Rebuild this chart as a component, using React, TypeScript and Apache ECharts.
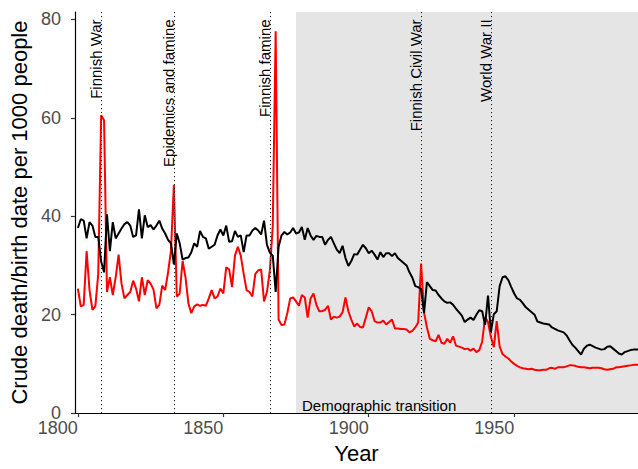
import React, { useEffect, useRef } from "react";
import * as echarts from "echarts";

const START_YEAR = 1800;

// Crude birth rate per 1000 people, 1800-1993 (black)
const birthRate = [
  37.6, 39.4, 39.1, 35.5, 38.8, 38.1, 35.8, 35.8, 30.8, 28.6,
  40.4, 32.9, 38.8, 35.5, 36.5, 37.5, 38.4, 38.8, 38.1, 35.8,
  36.1, 41.4, 35.5, 40.2, 37.8, 38.2, 37.3, 38.1, 39.1, 37.5,
  36.5, 35.2, 34.5, 30.2, 36.5, 34.5, 31.2, 31.5, 31.6, 32.7,
  34.5, 33.8, 37.0, 35.8, 35.5, 33.4, 33.8, 34.2, 36.1, 37.3,
  36.1, 38.1, 34.8, 34.9, 37.0, 35.8, 36.1, 32.7, 36.1, 36.1,
  37.1, 37.6, 37.1, 36.3, 39.1, 34.2, 32.6, 32.0, 24.6, 33.8,
  36.1, 36.8, 36.3, 36.7, 37.6, 36.5, 36.7, 37.8, 35.2, 37.6,
  36.1, 35.2, 36.0, 35.8, 35.8, 34.2, 35.2, 35.8, 34.5, 33.2,
  32.5, 34.0, 31.5, 29.9, 30.9, 32.3, 32.2, 33.2, 34.2, 33.5,
  32.5, 33.0, 32.2, 31.2, 32.7, 31.7, 32.5, 32.5, 31.9, 32.5,
  31.5, 31.0, 30.5, 30.0, 28.6, 27.5, 25.8, 25.6, 25.2, 20.3,
  26.6, 25.8, 25.0, 24.9, 24.0, 23.3, 22.7, 22.4, 22.5, 22.0,
  21.2, 20.5, 19.8, 18.5, 19.0, 19.4, 18.9, 20.0, 20.9, 20.7,
  17.9, 23.9, 16.5, 20.1, 20.7, 25.8, 27.6, 27.8, 27.0, 25.6,
  24.3, 23.3, 23.0, 22.3, 21.5, 21.0, 20.5, 20.0, 18.6, 18.4,
  18.2, 18.1, 18.0, 17.4, 17.1, 16.8, 16.6, 16.4, 15.8, 14.8,
  13.9, 13.3, 12.6, 11.9, 13.1, 13.7, 13.9, 13.6, 13.3, 13.1,
  12.9, 13.0, 13.5, 13.6, 13.1, 12.6, 12.1, 11.9, 12.4, 12.6,
  12.8, 12.9, 12.9, 12.9,
];

// Crude death rate per 1000 people, 1800-1993 (red)
const deathRate = [
  25.3, 21.7, 22.0, 32.9, 25.0, 21.0, 21.7, 28.3, 60.5, 59.5,
  24.6, 27.6, 24.0, 27.6, 32.2, 26.3, 23.3, 24.0, 24.6, 26.9,
  25.3, 22.7, 27.6, 24.0, 27.0, 26.3, 25.1, 21.3, 22.0, 25.9,
  25.0, 28.6, 33.0, 46.4, 23.7, 24.3, 30.9, 27.6, 22.3, 20.3,
  21.7, 22.1, 21.8, 22.0, 21.8, 23.3, 25.0, 23.3, 23.7, 25.3,
  24.3, 29.6, 29.2, 25.6, 32.0, 33.8, 32.0, 28.3, 25.0, 24.6,
  23.7, 28.3, 29.0, 29.2, 22.7, 24.6, 29.0, 38.0, 77.6, 19.0,
  17.9, 18.0, 20.3, 23.3, 23.5, 22.7, 21.8, 24.0, 23.5, 19.4,
  23.3, 24.3, 22.0, 20.7, 20.7, 21.0, 21.8, 19.0, 19.6, 19.4,
  19.6, 20.5, 23.5, 20.7, 19.0, 17.6, 18.2, 17.5, 17.4, 19.4,
  21.5, 20.7, 18.7, 18.4, 18.4, 18.8, 18.0, 18.5, 19.0, 17.2,
  17.2, 17.1, 17.1, 17.0, 16.4, 16.7, 17.4, 18.4, 30.4, 20.5,
  17.4, 15.1, 14.8, 14.6, 15.9, 14.3, 14.1, 15.1, 14.3, 15.6,
  13.7, 13.5, 13.3, 13.0, 13.1, 12.7, 13.1, 12.4, 12.8, 14.5,
  19.5, 18.5, 15.5, 13.4, 18.7, 13.5, 12.0, 11.5, 11.1, 10.5,
  10.0, 9.6, 9.3, 9.1, 9.0, 8.9, 9.0, 8.8, 8.7, 8.7,
  8.8, 8.8, 9.1, 9.2, 9.0, 9.3, 9.3, 9.3, 9.5, 9.7,
  9.7, 9.6, 9.4, 9.3, 9.3, 9.2, 9.1, 9.2, 9.2, 9.2,
  9.1, 8.9, 8.8, 8.9, 9.0, 9.3, 9.3, 9.4, 9.5, 9.6,
  9.7, 9.8, 9.8, 9.8,
];

const eventYears = [1808, 1833, 1866, 1918, 1942];
const eventLabels = [
  "Finnish War",
  "Epidemics and famine",
  "Finnish famine",
  "Finnish Civil War",
  "World War II",
];
const transitionStart = 1875;
const transitionLabel = "Demographic transition";
const xTicks = [1800, 1850, 1900, 1950];
const yTicks = [0, 20, 40, 60, 80];

const X_MIN = 1798.98;
const X_MAX = 1992.57;
const Y_MIN = 0;
const Y_MAX = 81.5;
const EVENT_LABEL_Y = 80;

export default function App() {
  const ref = useRef<HTMLDivElement>(null);

  useEffect(() => {
    if (!ref.current) return;
    const chart = echarts.init(ref.current, null, { renderer: "svg" });
    const font = "'Liberation Sans', Arial, sans-serif";
    const years = birthRate.map((_, i) => START_YEAR + i);

    chart.setOption({
      animation: false,
      backgroundColor: "#ffffff",
      grid: { left: 67.7, right: 0, top: 12, bottom: 45.5, containLabel: false },
      xAxis: {
        type: "value",
        min: X_MIN,
        max: X_MAX,
        name: "Year",
        nameLocation: "middle",
        nameGap: 27,
        nameTextStyle: { fontSize: 22, color: "#000", fontFamily: font },
        axisLine: { show: true, onZero: false, lineStyle: { color: "#000", width: 1.2 } },
        axisTick: { show: true, customValues: xTicks, length: 4, lineStyle: { color: "#333", width: 1.2 } },
        axisLabel: {
          customValues: xTicks,
          align: "right",
          margin: 6,
          fontSize: 18,
          color: "#4d4d4d",
          fontFamily: font,
          formatter: (v: number) => String(Math.round(v)),
        },
        splitLine: { show: false },
      },
      yAxis: {
        type: "value",
        min: Y_MIN,
        max: Y_MAX,
        name: "Crude death/birth date per 1000 people",
        nameLocation: "middle",
        nameGap: 33,
        nameTextStyle: { fontSize: 22, color: "#000", fontFamily: font },
        axisLine: { show: true, onZero: false, lineStyle: { color: "#000", width: 1.2 } },
        axisTick: { show: true, customValues: yTicks, length: 4, lineStyle: { color: "#333", width: 1.2 } },
        axisLabel: {
          customValues: yTicks,
          margin: 14,
          fontSize: 18,
          color: "#4d4d4d",
          fontFamily: font,
          formatter: (v: number) => String(Math.round(v)),
        },
        splitLine: { show: false },
      },
      series: [
        {
          type: "line",
          name: "transition",
          data: [],
          z: 1,
          silent: true,
          markArea: {
            silent: true,
            itemStyle: { color: "#e5e5e5", opacity: 1 },
            label: { show: false },
            data: [[{ xAxis: transitionStart }, { xAxis: X_MAX }]],
          },
        },
        {
          type: "line",
          name: "events",
          data: [],
          z: 2,
          silent: true,
          markLine: {
            silent: true,
            symbol: ["none", "none"],
            label: { show: false },
            lineStyle: { color: "#000", type: [1, 3], width: 1 },
            data: eventYears.map((y) => ({ xAxis: y })),
          },
        },
        {
          type: "line",
          name: "Death rate",
          data: years.map((y, i) => [y, deathRate[i]]),
          showSymbol: false,
          clip: true,
          z: 3,
          lineStyle: { color: "#ff0000", width: 2 },
        },
        {
          type: "line",
          name: "Birth rate",
          data: years.map((y, i) => [y, birthRate[i]]),
          showSymbol: false,
          clip: true,
          z: 4,
          lineStyle: { color: "#000000", width: 2 },
        },
      ],
    });

    const graphics: any[] = eventYears.map((yr, i) => {
      const [px, py] = chart.convertToPixel({ gridIndex: 0 }, [yr, EVENT_LABEL_Y]);
      return {
        type: "text",
        x: px + 2,
        y: py,
        rotation: Math.PI / 2,
        z: 10,
        style: {
          text: eventLabels[i],
          fill: "#000",
          font: `15px ${font}`,
          align: "right",
          verticalAlign: "bottom",
        },
      };
    });
    const [tx, ty] = chart.convertToPixel({ gridIndex: 0 }, [transitionStart, 0]);
    graphics.push({
      type: "text",
      x: tx + 6,
      y: ty,
      z: 10,
      style: {
        text: transitionLabel,
        fill: "#000",
        font: `15px ${font}`,
        align: "left",
        verticalAlign: "bottom",
      },
    });
    chart.setOption({ graphic: graphics });

    return () => chart.dispose();
  }, []);

  return (
    <div
      ref={ref}
      style={{ position: "fixed", left: 0, top: 0, width: 638, height: 469 }}
    />
  );
}
